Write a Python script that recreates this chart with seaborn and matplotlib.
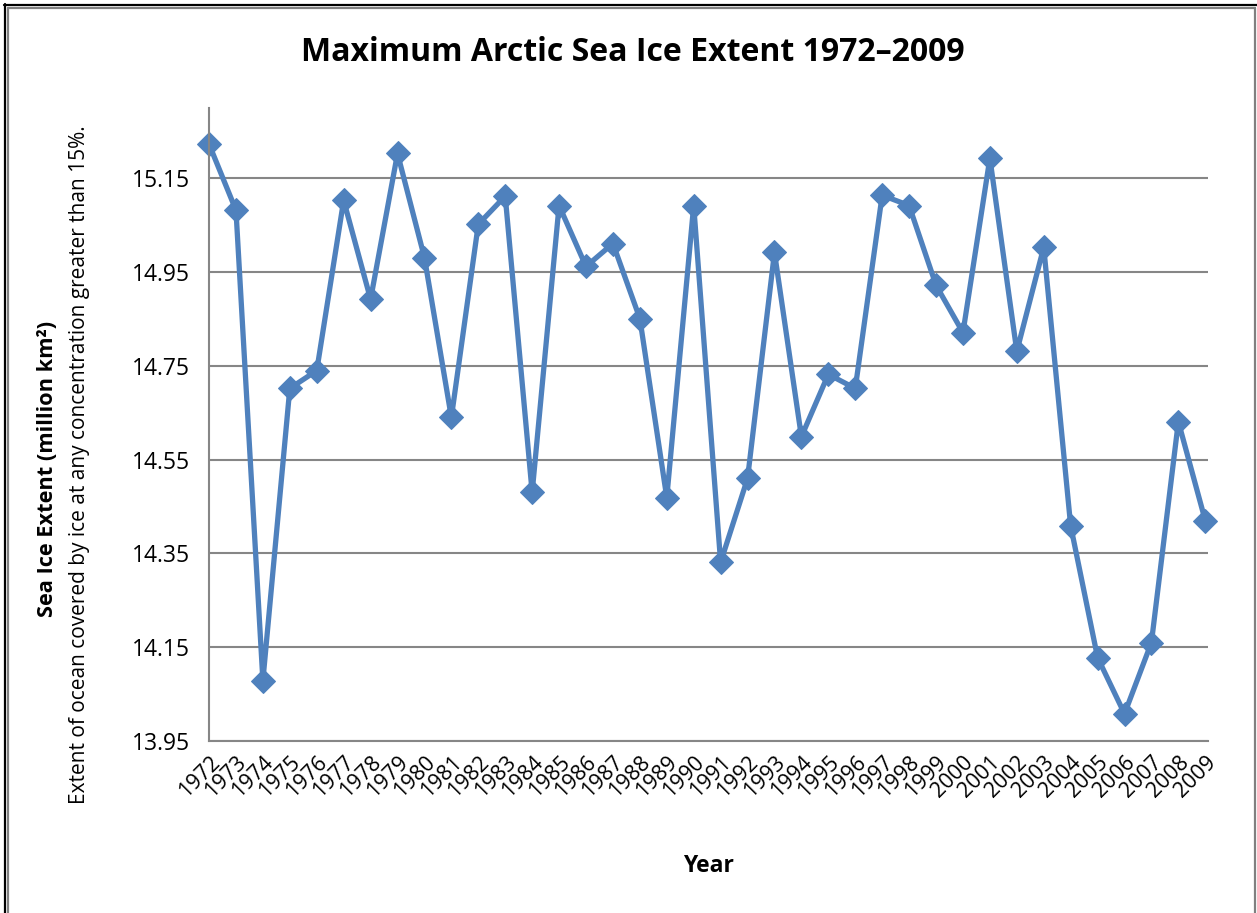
import numpy as np
import pandas as pd
import matplotlib.pyplot as plt
import seaborn as sns
from matplotlib.lines import Line2D

years = list(range(1972, 2010))
extent = [15.223, 15.082, 14.079, 14.702, 14.740, 15.103, 14.892, 15.203,
          14.981, 14.640, 15.052, 15.112, 14.480, 15.092, 14.962, 15.011,
          14.851, 14.469, 15.092, 14.331, 14.510, 14.992, 14.599, 14.732,
          14.702, 15.114, 15.092, 14.922, 14.821, 15.193, 14.781, 15.003,
          14.409, 14.128, 14.008, 14.160, 14.631, 14.420]
yticks = [13.95, 14.15, 14.35, 14.55, 14.75, 14.95, 15.15]

df = pd.DataFrame({"idx": np.arange(len(years)), "Year": years, "Extent": extent})

sns.set_style("white")
plt.rcParams["font.family"] = ["Open Sans", "DejaVu Sans"]
plt.rcParams["text.color"] = "black"
plt.rcParams["xtick.color"] = "black"
plt.rcParams["ytick.color"] = "black"

W, H = 1257, 913
fig = plt.figure(figsize=(W / 100, H / 100), dpi=100)
ax = fig.add_axes([0.1663, 0.1884, 0.7947, 0.6933])

sns.lineplot(data=df, x="idx", y="Extent", ax=ax, color="#4F81BD", linewidth=3.8,
             marker="D", markersize=12.5, markeredgecolor="#4F81BD", clip_on=False)

ax.set_xlim(0, len(years) - 1 + 0.1)
ax.set_ylim(13.95, 15.30)
ax.set_yticks(yticks)
ax.set_yticklabels([f"{v:.2f}" for v in yticks], fontsize=16.5)
ax.set_xticks(df["idx"])
ax.set_xticklabels(years, rotation=45, ha="right", rotation_mode="anchor", fontsize=15.5)
ax.tick_params(axis="y", length=0, pad=14)
ax.tick_params(axis="x", length=0, pad=8)
ax.yaxis.grid(True, color="#868686", linewidth=1.5)
ax.set_axisbelow(True)
for s in ["top", "right"]:
    ax.spines[s].set_visible(False)
for s in ["left", "bottom"]:
    ax.spines[s].set_color("#868686")
    ax.spines[s].set_linewidth(1.5)

ax.set_xlabel("")
ax.set_ylabel("")
fig.text(0.5035, 0.943, "Maximum Arctic Sea Ice Extent 1972\u20132009", ha="center", va="center",
         fontsize=23, fontweight="bold")
fig.text(0.5637, 0.051, "Year", ha="center", va="center", fontsize=16.5, fontweight="bold")
fig.text(0.038, 0.486, "Sea Ice Extent (million km\u00b2)", rotation=90, ha="center", va="center",
         fontsize=15.7, fontweight="bold")
fig.text(0.063, 0.491, "Extent of ocean covered by ice at any concentration greater than 15%.",
         rotation=90, ha="center", va="center", fontsize=15)

# frame around the chart (pixel coords)
def px_line(xs, ys, color):
    fig.lines.append(Line2D([x / W for x in xs], [1 - y / H for y in ys],
                            transform=fig.transFigure, color=color, linewidth=1.6))

px_line([4, W], [5, 5], "black")
px_line([5, 5], [4, H], "black")
px_line([8, 1255], [8, 8], "#808080")
px_line([8, 8], [8, H], "#808080")
px_line([1255, 1255], [8, H], "#808080")

fig.savefig("out.png", dpi=100)
